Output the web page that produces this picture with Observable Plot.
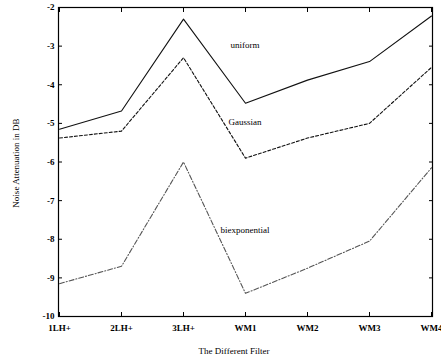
<!DOCTYPE html>
<html><head><meta charset="utf-8">
<script src="https://cdn.jsdelivr.net/npm/d3@7"></script>
<script src="https://cdn.jsdelivr.net/npm/@observablehq/plot@0.6"></script>
<style>
html,body{margin:0;padding:0;background:#fff;}
</style>
</head><body>
<div id="chart"></div>
<script>
const filters = ["1LH+", "2LH+", "3LH+", "WM1", "WM2", "WM3", "WM4"];
const uniform = [-5.15, -4.68, -2.3, -4.48, -3.88, -3.4, -2.22];
const gaussian = [-5.38, -5.2, -3.3, -5.9, -5.38, -5.0, -3.55];
const biexponential = [-9.15, -8.7, -6.0, -9.4, -8.75, -8.05, -6.15];
const yTicks = [-10, -9, -8, -7, -6, -5, -4, -3, -2];
const seriesNames = ["uniform", "Gaussian", "biexponential"];
const labelAt = [["WM1", -2.98], ["WM1", -4.98], ["WM1", -7.78]];

const series = [uniform, gaussian, biexponential];
const rows = series.flatMap((vals, i) => vals.map((v, j) => ({series: seriesNames[i], filter: filters[j], value: v})));
const labels = seriesNames.map((s, i) => ({series: s, filter: labelAt[i][0], value: labelAt[i][1]}));
const dash = {uniform: null, Gaussian: "3,2", biexponential: "5,2,1,2"};
const col = {uniform: "#111", Gaussian: "#111", biexponential: "#555"};

const font = "'Liberation Serif', 'DejaVu Serif', serif";
const plot = Plot.plot({
  width: 441,
  height: 362,
  marginLeft: 58,
  marginRight: 9,
  marginTop: 7,
  marginBottom: 46,
  style: {fontFamily: font, fontSize: "9px", color: "#000", background: "#fff"},
  x: {type: "point", domain: filters, padding: 0},
  y: {domain: [-10, -2]},
  marks: [
    Plot.frame({stroke: "#000", strokeWidth: 1.2}),
    Plot.axisY({ticks: yTicks, tickSize: 0, tickPadding: 4, tickFormat: d => String(d), label: null, fontWeight: "bold", fill: "#000"}),
    Plot.axisY({ticks: yTicks, tickSize: -4, tickFormat: () => "", label: null}),
    Plot.axisY({anchor: "right", ticks: yTicks, tickSize: -4, tickFormat: () => "", label: null}),
    Plot.axisX({tickSize: 0, tickPadding: 8, label: null, fontWeight: "bold", fill: "#000"}),
    Plot.axisX({tickSize: -4, tickFormat: () => "", label: null}),
    Plot.axisX({anchor: "top", tickSize: -4, tickFormat: () => "", label: null}),
    ...seriesNames.map(s => Plot.line(rows.filter(r => r.series === s), {
      x: "filter", y: "value", stroke: col[s], strokeWidth: 1.1, strokeDasharray: dash[s]
    })),
    Plot.text(labels, {x: "filter", y: "value", text: "series", dx: [-13, 15, 15], textAnchor: "middle", fontSize: 9, fill: "#000"})
  ]
});
document.getElementById("chart").appendChild(plot);
const svg = d3.select(plot);
svg.append("text").attr("x", 234).attr("y", 354).attr("text-anchor", "middle").attr("fill", "#000")
  .attr("font-family", font).attr("font-size", 9).text("The Different Filter");
svg.append("text").attr("transform", "translate(19,163) rotate(-90)").attr("text-anchor", "middle").attr("fill", "#000")
  .attr("font-family", font).attr("font-size", 9).text("Noise Attenuation in DB");
</script>
</body></html>
